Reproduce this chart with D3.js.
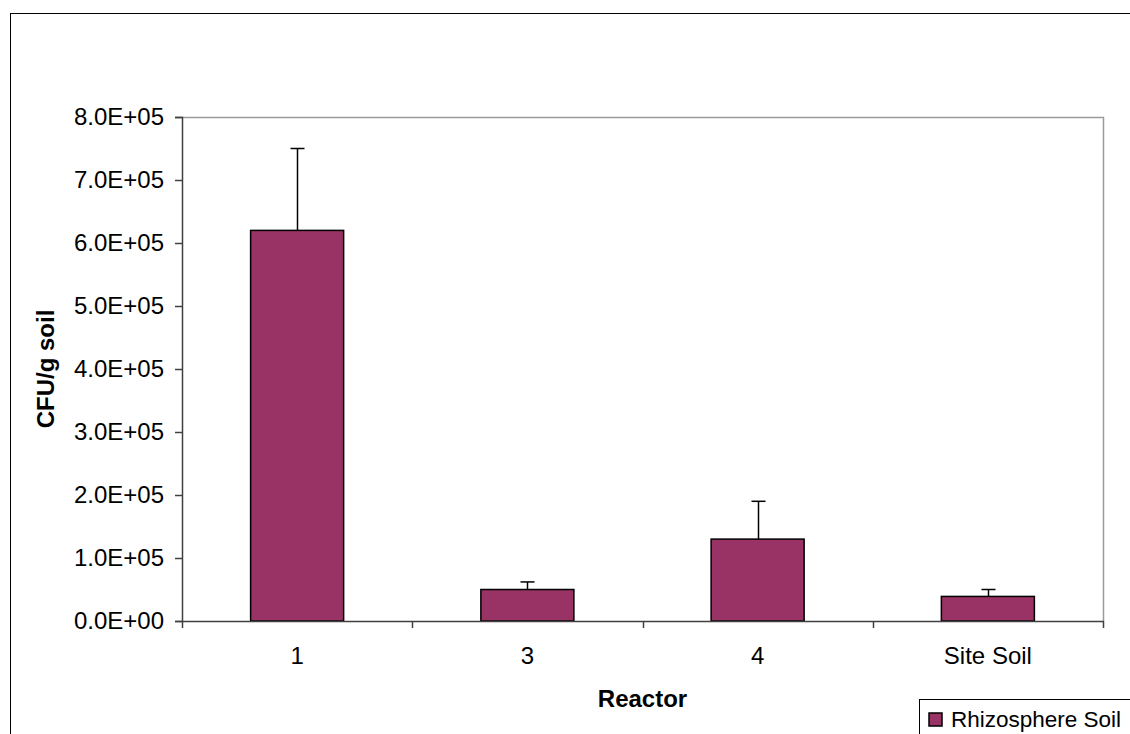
<!DOCTYPE html>
<html>
<head>
<meta charset="utf-8">
<script src="https://cdn.jsdelivr.net/npm/d3@7"></script>
<style>
  html, body { margin: 0; padding: 0; background: #fff; }
  svg { display: block; }
  text { font-family: "Liberation Sans", Arial, sans-serif; fill: #000; }
</style>
</head>
<body>
<svg id="chart" width="1130" height="734"></svg>
<script>
// Data
const categories = ["1", "3", "4", "Site Soil"];
const values = [620000, 50000, 130000, 39000];
const errors = [130000, 12000, 60000, 11000];
const yTicks = [0, 100000, 200000, 300000, 400000, 500000, 600000, 700000, 800000];
const seriesName = "Rhizosphere Soil";
const xTitle = "Reactor";
const yTitle = "CFU/g soil";

const svg = d3.select("#chart");
const W = 1130, H = 734;
const plot = { left: 182, top: 117, right: 1103, bottom: 621 };
const fontSize = 24;

// Outer chart border
svg.append("rect")
  .attr("x", 10.5).attr("y", 13.5)
  .attr("width", W + 20).attr("height", H + 20)
  .attr("fill", "none").attr("stroke", "#000").attr("stroke-width", 1);

const x = d3.scaleBand().domain(categories)
  .range([plot.left, plot.right]).paddingInner(0.596).paddingOuter(0.298);
const xOuter = d3.scaleBand().domain(categories).range([plot.left, plot.right]);
const y = d3.scaleLinear().domain([0, 800000]).range([plot.bottom, plot.top]);

// Plot area border (top/right gray)
svg.append("path")
  .attr("d", `M${plot.left},${plot.top + 0.5}H${plot.right + 0.5}V${plot.bottom}`)
  .attr("fill", "none").attr("stroke", "#9a9a9a").attr("stroke-width", 1.5);

// Bars
svg.append("g").selectAll("rect").data(categories).join("rect")
  .attr("x", d => x(d))
  .attr("y", (d, i) => y(values[i]))
  .attr("width", x.bandwidth())
  .attr("height", (d, i) => y(0) - y(values[i]))
  .attr("fill", "#993366")
  .attr("stroke", "#000").attr("stroke-width", 1.5);

// Error bars (positive only)
const eg = svg.append("g").attr("stroke", "#000").attr("stroke-width", 1.5);
categories.forEach((c, i) => {
  const cx = Math.round(x(c) + x.bandwidth() / 2) + 0.5;
  const yTop = y(values[i] + errors[i]);
  eg.append("line").attr("x1", cx).attr("x2", cx).attr("y1", y(values[i])).attr("y2", yTop);
  eg.append("line").attr("x1", cx - 7).attr("x2", cx + 7).attr("y1", yTop).attr("y2", yTop);
});

// Y axis
const yAxis = d3.axisLeft(y).tickValues(yTicks).tickSize(7).tickPadding(11)
  .tickFormat(d => d3.format(".1e")(d).replace(/e([+-])(\d)$/, "E$10$2").replace("e", "E"));
const gy = svg.append("g").attr("transform", `translate(${plot.left},0)`).call(yAxis);
gy.select(".domain").attr("stroke", "#404040").attr("stroke-width", 1.5);
gy.selectAll(".tick line").attr("stroke", "#404040").attr("stroke-width", 1.5);
gy.selectAll(".tick text").attr("font-size", fontSize)
  .style("font-family", '"Liberation Sans", Arial, sans-serif').attr("fill", "#000");

// X axis
const xAxis = d3.axisBottom(xOuter).tickSize(0).tickPadding(26);
const gx = svg.append("g").attr("transform", `translate(0,${plot.bottom})`).call(xAxis);
gx.select(".domain").attr("stroke", "#404040").attr("stroke-width", 1.5);
gx.selectAll(".tick text").attr("font-size", fontSize)
  .style("font-family", '"Liberation Sans", Arial, sans-serif').attr("fill", "#000");
// category separator ticks
const bounds = categories.map(c => xOuter(c)).concat([plot.right]);
gx.selectAll(".sep").data(bounds).join("line")
  .attr("x1", d => Math.round(d) + 0.5).attr("x2", d => Math.round(d) + 0.5)
  .attr("y1", 0).attr("y2", 7)
  .attr("stroke", "#404040").attr("stroke-width", 1.5);

// Axis titles
svg.append("text")
  .attr("x", (plot.left + plot.right) / 2).attr("y", 707)
  .attr("text-anchor", "middle").attr("font-size", fontSize).attr("font-weight", "bold")
  .text(xTitle);
svg.append("text")
  .attr("transform", `translate(54,${(plot.top + plot.bottom) / 2}) rotate(-90)`)
  .attr("text-anchor", "middle").attr("font-size", fontSize).attr("font-weight", "bold")
  .text(yTitle);

// Legend
const lg = svg.append("g");
lg.append("rect").attr("x", 919.5).attr("y", 699.5).attr("width", 240).attr("height", 60)
  .attr("fill", "#fff").attr("stroke", "#000").attr("stroke-width", 1);
lg.append("rect").attr("x", 929).attr("y", 713).attr("width", 13).attr("height", 13)
  .attr("fill", "#993366").attr("stroke", "#000").attr("stroke-width", 1.5);
lg.append("text").attr("x", 951).attr("y", 727).attr("font-size", 22.5).text(seriesName);
</script>
</body>
</html>
